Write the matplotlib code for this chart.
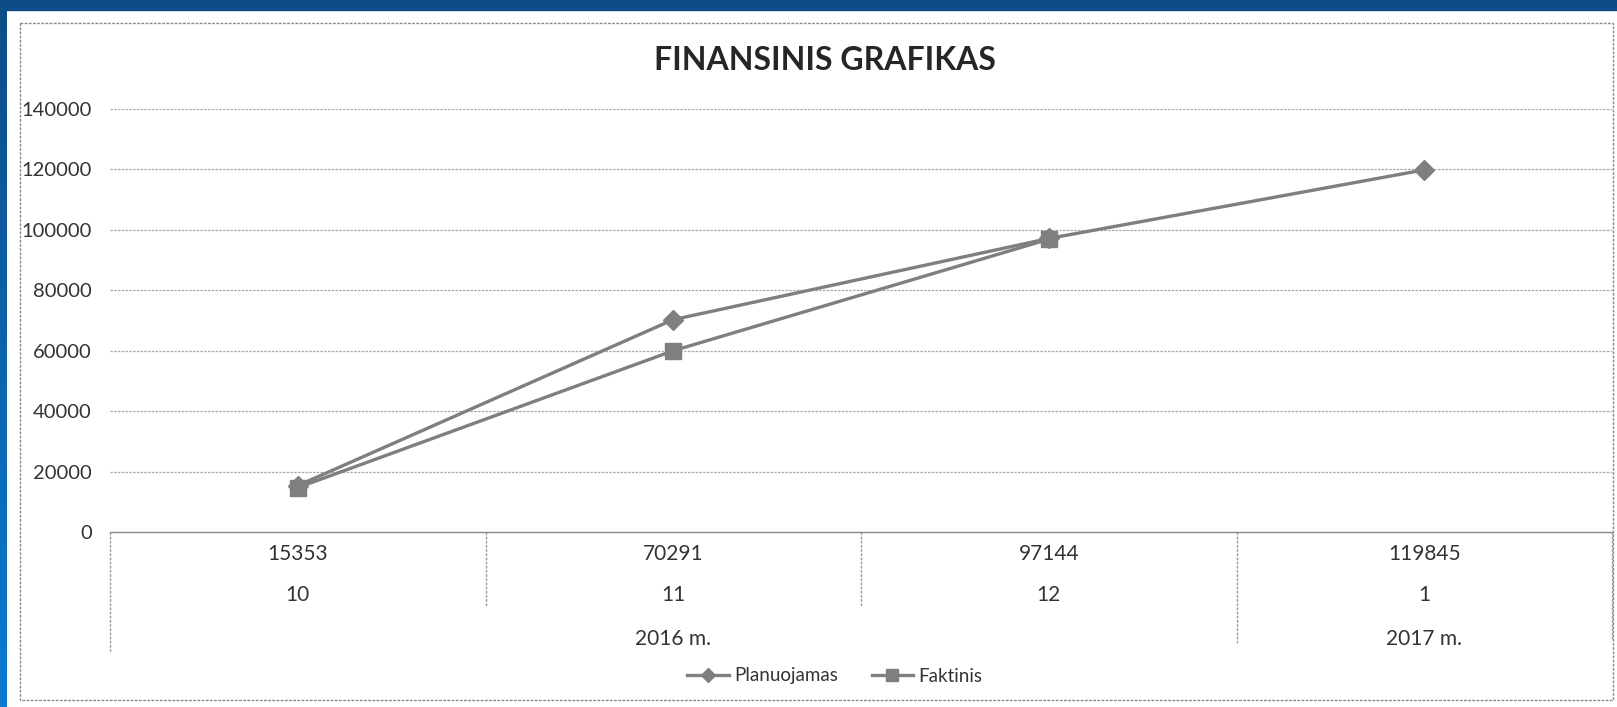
import matplotlib.pyplot as plt
import numpy as np
from matplotlib.lines import Line2D
from matplotlib.patches import Rectangle
from matplotlib.transforms import blended_transform_factory

plt.rcParams['font.family'] = ['Lato', 'DejaVu Sans']

# data
value_labels = ["15353", "70291", "97144", "119845"]
month_labels = ["10", "11", "12", "1"]
year_labels = ["2016 m.", "2017 m."]
year_spans = [(0, 2), (3, 3)]
planuojamas = [15353, 70291, 97144, 119845]
faktinis = [14700, 60000, 96900]
y_ticks = [0, 20000, 40000, 60000, 80000, 100000, 120000, 140000]

W, H = 1617, 707
fig = plt.figure(figsize=(W / 100, H / 100), dpi=100)
fig.patch.set_facecolor('white')


def fx(px):
    return px / W


def fy(py):
    return 1 - py / H


# scanner edges: dark band on top, blue band on the left
bg = fig.add_axes([0, 0, 1, 1], zorder=-5)
bg.set_axis_off()
bg.set_xlim(0, W)
bg.set_ylim(H, 0)
grad = np.linspace(0, 1, 256).reshape(-1, 1)
bg.imshow(grad, extent=[0, 6, H, 0], aspect='auto',
          cmap=plt.matplotlib.colors.LinearSegmentedColormap.from_list(
              'edge', ['#0d4c86', '#0a7bd2']))
bg.add_patch(Rectangle((0, 0), W, 10, color='#0d4c86'))
bg.add_patch(Rectangle((20, 23), 1593, 677, fill=False, edgecolor='#8a8a8a',
                       linewidth=1.0, linestyle=(0, (2, 1))))

# plot area
x_left, x_right, y_top, y_zero = 110, 1612, 109, 532
ax = fig.add_axes([fx(x_left), fy(y_zero), fx(x_right - x_left),
                   (y_zero - y_top) / H])
ax.set_xlim(-0.5, 3.5)
ax.set_ylim(0, 140000)
for s in ['top', 'right', 'left']:
    ax.spines[s].set_visible(False)
ax.spines['bottom'].set_color('#8a8a8a')
ax.spines['bottom'].set_linewidth(1.0)
ax.spines['bottom'].set_linestyle((0, (2, 1)))
ax.set_xticks([])
ax.set_yticks(y_ticks)
ax.set_yticklabels([str(v) for v in y_ticks])
ax.tick_params(axis='y', length=0, pad=13, labelsize=14.5, labelcolor='#333333')
for v in y_ticks[1:]:
    ax.axhline(v, color='#a8a8a8', linewidth=0.9, linestyle=(0, (2, 1)), zorder=1)

line_color = '#7f7f7f'
xs = np.arange(len(planuojamas))
ax.plot(xs, planuojamas, color=line_color, linewidth=2.4, marker='D',
        markersize=10, zorder=3, label='Planuojamas')
ax.plot(np.arange(len(faktinis)), faktinis, color=line_color, linewidth=2.4,
        marker='s', markersize=12, zorder=3, label='Faktinis')

# category table below the axis
tr = blended_transform_factory(ax.transData, fig.transFigure)
div_style = dict(color='#9a9a9a', linewidth=1.0, linestyle=(0, (2, 1)),
                 transform=tr, clip_on=False)
ax.plot([-0.5, -0.5], [fy(y_zero), fy(653)], **div_style)
ax.plot([0.5, 0.5], [fy(y_zero), fy(607)], **div_style)
ax.plot([1.5, 1.5], [fy(y_zero), fy(607)], **div_style)
ax.plot([2.5, 2.5], [fy(y_zero), fy(643)], **div_style)
ax.plot([3.5, 3.5], [fy(y_zero), fy(640)], **div_style)

txt = dict(transform=tr, ha='center', va='center', fontsize=15,
           color='#333333', clip_on=False)
for i, (v, m) in enumerate(zip(value_labels, month_labels)):
    ax.text(i, fy(554), v, **txt)
    ax.text(i, fy(595), m, **txt)
for lab, (a, b) in zip(year_labels, year_spans):
    ax.text((a + b) / 2, fy(639), lab, **txt)

fig.text(fx(825), fy(60), 'FINANSINIS GRAFIKAS', ha='center', va='center',
         fontsize=23, fontweight='bold', color='#262626')

handles = [
    Line2D([], [], color=line_color, linewidth=2.4, marker='D', markersize=7),
    Line2D([], [], color=line_color, linewidth=2.4, marker='s', markersize=9),
]
fig.legend(handles, ['Planuojamas', 'Faktinis'], loc='center',
           bbox_to_anchor=(fx(835), fy(676)), ncol=2, frameon=False,
           fontsize=13.5, handlelength=2.2, handletextpad=0.3, columnspacing=1.8,
           labelcolor='#333333')

fig.savefig('out.png', dpi=100)
